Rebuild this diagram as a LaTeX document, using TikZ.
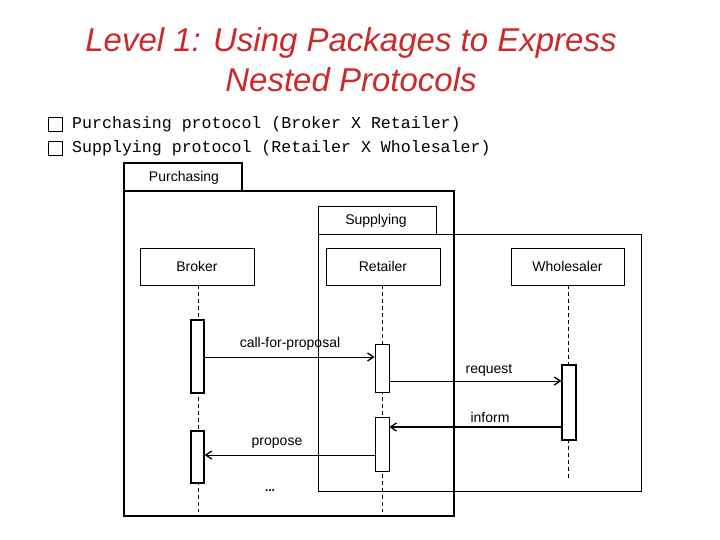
\documentclass[tikz,border=0pt]{standalone}
\usepackage{fontspec}
\setmainfont{Liberation Sans}
\newfontfamily\monof{Liberation Mono}
\usetikzlibrary{arrows.meta}
\definecolor{titlered}{HTML}{CC2A2A}
\begin{document}
\begin{tikzpicture}[x=1pt,y=-1pt,
  frm/.style={draw,line width=1.3pt},
  obj/.style={draw,line width=0.6pt,fill=white},
  act/.style={draw,line width=1.1pt,fill=white},
  life/.style={dashed,line width=0.5pt,dash pattern=on 4pt off 3pt},
  msg/.style={line width=0.6pt,-{Straight Barb[length=6pt,width=8pt,line width=1.3pt]}},
  lab/.style={font=\fontsize{14}{16}\selectfont,inner sep=0pt},
  bul/.style={font=\monof\fontsize{16.6}{18}\selectfont,anchor=west,inner sep=0pt}]
\useasboundingbox (0,0) rectangle (720,540);
\node[titlered,font=\fontsize{33}{38}\selectfont\itshape] (t1) at (351,43) {Level 1: Using Packages to Express};
\node[titlered,font=\fontsize{33}{38}\selectfont\itshape] (t2) at (351,80) {Nested Protocols};
\draw[line width=0.9pt] (48,117) rectangle (62,131);
\draw[line width=0.9pt] (48,141) rectangle (62,155);
\node[bul] (b1) at (72,124) {Purchasing protocol (Broker X Retailer)};
\node[bul] (b2) at (72,148) {Supplying protocol (Retailer X Wholesaler)};
% frames
\draw[frm] (124,191) rectangle (454,516);
\draw[frm] (124,191) -- (124,163) -- (242,163) -- (242,191);
\node[lab] (pl) at (184,178) {Purchasing};
\draw[line width=0.9pt] (318,234) rectangle (641,491);
\draw[line width=0.9pt] (318,234) -- (318,206) -- (436,206) -- (436,234);
\node[lab] (sl) at (376,221) {Supplying};
% objects
\node[obj,minimum width=114pt,minimum height=37pt,lab] (br) at (197,266.5) {Broker};
\node[obj,minimum width=114pt,minimum height=37pt,lab] (re) at (383,266.5) {Retailer};
\node[obj,minimum width=113pt,minimum height=37pt,lab] (wh) at (567.5,266.5) {Wholesaler};
\coordinate (bre) at (198,512);
\coordinate (ree) at (382,512);
\coordinate (whe) at (568,478);
\draw[life] (198,285) -- (bre);
\draw[life] (382,285) -- (ree);
\draw[life] (568,285) -- (whe);
% activations
\node[act,minimum width=13pt,minimum height=73pt,inner sep=0pt] (ba1) at (197.5,356.5) {};
\node[act,minimum width=13pt,minimum height=52pt,inner sep=0pt] (ba2) at (197.5,457) {};
\node[act,minimum width=14pt,minimum height=48pt,inner sep=0pt,line width=0.7pt] (ra1) at (382,368) {};
\node[act,minimum width=14pt,minimum height=54pt,inner sep=0pt,line width=0.7pt] (ra2) at (382,444) {};
\node[act,minimum width=14pt,minimum height=75pt,inner sep=0pt] (wa) at (569,402.5) {};
% messages
\draw[msg] (ba1.east |- 0,357) -- (ra1.west |- 0,357);
\draw[msg] (ra1.east |- 0,381) -- (wa.west |- 0,381);
\draw[msg,line width=1.3pt] (wa.west |- 0,427) -- (ra2.east |- 0,427);
\draw[msg] (ra2.west |- 0,455) -- (ba2.east |- 0,455);
\node[lab] (m1) at (290,344) {call-for-proposal};
\node[lab] (m2) at (489,370) {request};
\node[lab] (m3) at (490,417) {inform};
\node[lab] (m4) at (277,443) {propose};
\node[lab,font=\bfseries\fontsize{12}{12}\selectfont] (dots) at (270,491) {...};
\end{tikzpicture}
\end{document}
